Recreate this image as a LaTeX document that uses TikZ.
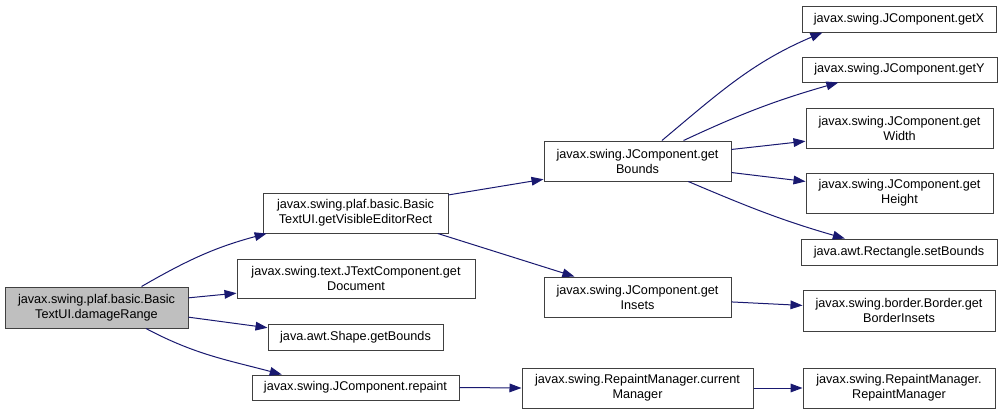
\documentclass[tikz,border=0pt]{standalone}
\usepackage{fontspec}
\setmainfont{Liberation Sans}
\usepackage{tikz}
\usetikzlibrary{arrows.meta}
\newcommand{\pxl}[0] {0.75pt}
\definecolor{callblue}{HTML}{191970}
\definecolor{rootgray}{HTML}{BFBFBF}
\definecolor{boxline}{HTML}{404040}
\tikzset{
  fn/.style={shape=rectangle,draw=boxline,line width=\pxl,inner sep=0pt,align=center,
    font=\fontsize{9.5}{11.25}\selectfont},
  call/.style={-{Triangle[length=9pt,width=6.5pt]},draw=callblue,line width=\pxl}
}

\begin{document}
\begin{tikzpicture}[x=\pxl,y=-\pxl]
        \useasboundingbox (0,0) rectangle (1003,414);
        \node[fn,fill=rootgray,minimum width=183*\pxl,minimum height=41*\pxl] (dr) at (96.5, 307.5) {javax.swing.plaf.basic.Basic\\TextUI.damageRange};
        \node[fn,minimum width=185*\pxl,minimum height=40*\pxl] (ver) at (355.5, 213) {javax.swing.plaf.basic.Basic\\TextUI.getVisibleEditorRect};
        \node[fn,minimum width=238*\pxl,minimum height=39*\pxl] (doc) at (356, 278.5) {javax.swing.text.JTextComponent.get\\Document};
        \node[fn,minimum width=175*\pxl,minimum height=26*\pxl] (shp) at (355.5, 337) {java.awt.Shape.getBounds};
        \node[fn,minimum width=207*\pxl,minimum height=25*\pxl] (rep) at (355.5, 387.5) {javax.swing.JComponent.repaint};
        \node[fn,minimum width=187*\pxl,minimum height=40*\pxl] (gb) at (637.5, 161) {javax.swing.JComponent.get\\Bounds};
        \node[fn,minimum width=187*\pxl,minimum height=40*\pxl] (gi) at (637.5, 297) {javax.swing.JComponent.get\\Insets};
        \node[fn,minimum width=231*\pxl,minimum height=40*\pxl] (cm) at (637.5, 388) {javax.swing.RepaintManager.current\\Manager};
        \node[fn,minimum width=194*\pxl,minimum height=26*\pxl] (gx) at (899, 19) {javax.swing.JComponent.getX};
        \node[fn,minimum width=195*\pxl,minimum height=25*\pxl] (gy) at (899.5, 69.5) {javax.swing.JComponent.getY};
        \node[fn,minimum width=187*\pxl,minimum height=40*\pxl] (gw) at (899.5, 128) {javax.swing.JComponent.get\\Width};
        \node[fn,minimum width=187*\pxl,minimum height=40*\pxl] (gh) at (899.5, 193) {javax.swing.JComponent.get\\Height};
        \node[fn,minimum width=196*\pxl,minimum height=26*\pxl] (sb) at (899, 252) {java.awt.Rectangle.setBounds};
        \node[fn,minimum width=192*\pxl,minimum height=41*\pxl] (gbi) at (899, 310.5) {javax.swing.border.Border.get\\BorderInsets};
        \node[fn,minimum width=192*\pxl,minimum height=40*\pxl] (rm) at (899, 388) {javax.swing.RepaintManager.\\RepaintManager};

        %calls of damageRange
        \path (dr.25) edge[call, out=30, in=195] (ver.193);
        \path (dr.6) edge[call] (doc.187);
        \path (dr.-6) edge[call] (shp.174);
        \path (dr.-23) edge[call, out=-28, in=165] (rep.170);

        %calls of getVisibleEditorRect
        \path (ver.11) edge[call] (gb.191);
        \path (ver.-14) edge[call] (gi.162);

        \path (rep.east) edge[call] (cm.west);

        %calls of getBounds
        \path (gb.40) edge[call, out=40, in=203] (gx.190);
        \path (gb.24) edge[call, out=25, in=196] (gy.192);
        \path (gb.7) edge[call] (gw.188);
        \path (gb.-7) edge[call] (gh.173);
        \path (gb.-22) edge[call, out=-23, in=164] (sb.166);

        \path (gi.-3) edge[call] (gbi.177);
        \path (cm.east) edge[call] (rm.west);
\end{tikzpicture}
\end{document}
